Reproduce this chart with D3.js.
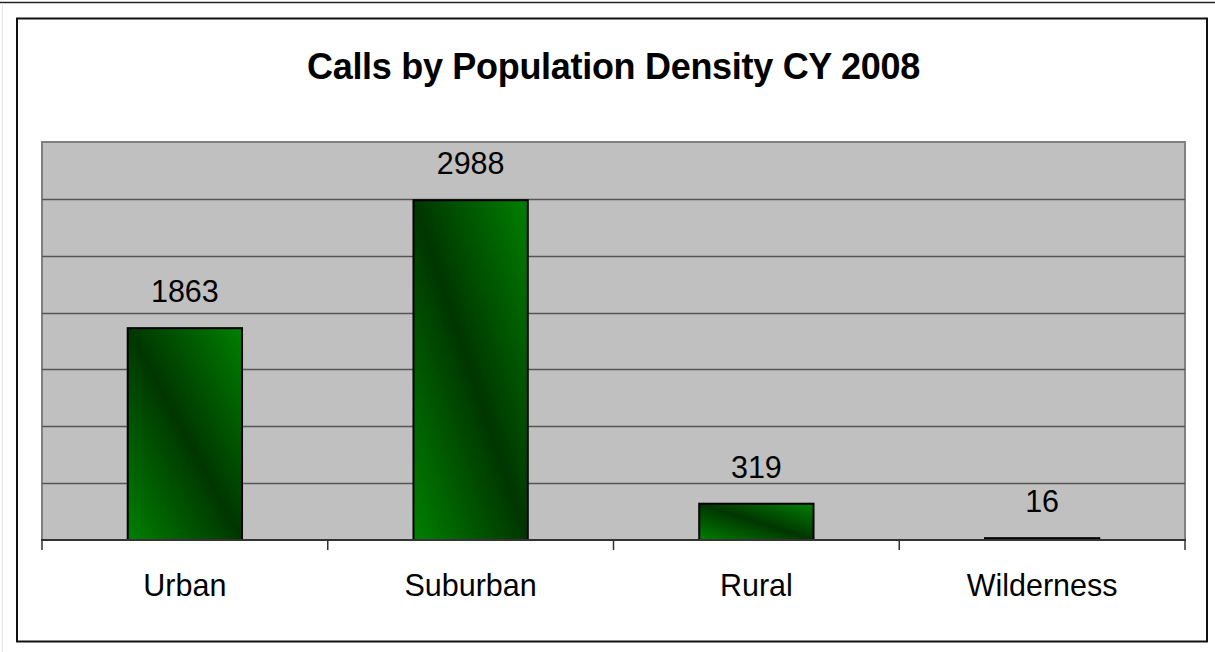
<!DOCTYPE html>
<html>
  <head>
    <script src="https://d3js.org/d3.v7.min.js"></script>
    <style>
body { margin: 0; background: #fff; }
text { font-family: "Liberation Sans", Arial, sans-serif; fill: #000; }
    </style>
  </head>
  <body>
    <script>
var categories = ["Urban", "Suburban", "Rural", "Wilderness"];
var calls = [1863, 2988, 319, 16];
var yTicks = [0, 500, 1000, 1500, 2000, 2500, 3000, 3500];
var title = "Calls by Population Density CY 2008";

var W = 1215, H = 652;
var plot = {left: 42, top: 142, right: 1185, bottom: 540};

var svg = d3.select("body").append("svg").attr("width", W).attr("height", H);

// page edges
svg.append("line").attr("x1", 0).attr("x2", W).attr("y1", 2.5).attr("y2", 2.5)
	.style("stroke", "#222").style("stroke-width", 1.5);
svg.append("line").attr("x1", 2.5).attr("x2", 2.5).attr("y1", 3).attr("y2", H)
	.style("stroke", "#e4e4e4").style("stroke-width", 1);

// chart border
svg.append("rect").attr("x", 17).attr("y", 18.5).attr("width", 1190).attr("height", 623)
	.style("fill", "white").style("stroke", "#111").style("stroke-width", 2);

var defs = svg.append("defs");
var grad = defs.append("linearGradient").attr("id", "barGrad")
	.attr("x1", 0).attr("y1", 1).attr("x2", 1).attr("y2", 0);
grad.append("stop").attr("offset", "0%").attr("stop-color", "#008000");
grad.append("stop").attr("offset", "50%").attr("stop-color", "#003600");
grad.append("stop").attr("offset", "100%").attr("stop-color", "#008000");

var x = d3.scaleBand().domain(categories).range([plot.left, plot.right]).padding(0);
var y = d3.scaleLinear().domain([0, 3500]).range([plot.bottom, plot.top]);

// plot area
svg.append("rect").attr("x", plot.left).attr("y", plot.top)
	.attr("width", plot.right - plot.left).attr("height", plot.bottom - plot.top)
	.style("fill", "#c0c0c0").style("stroke", "#808080").style("stroke-width", 2);

// gridlines
svg.append("g").selectAll("line").data(yTicks.slice(1, -1)).enter().append("line")
	.attr("x1", plot.left).attr("x2", plot.right)
	.attr("y1", function (d) { return Math.round(y(d)) + 0.5; })
	.attr("y2", function (d) { return Math.round(y(d)) + 0.5; })
	.style("stroke", "#555").style("stroke-width", 1.5);

// bars
var barW = x.bandwidth() * 0.4;
svg.append("g").selectAll("rect").data(calls).enter().append("rect")
	.attr("x", function (d, i) { return x(categories[i]) + (x.bandwidth() - barW) / 2; })
	.attr("y", function (d) { return y(d); })
	.attr("width", barW)
	.attr("height", function (d) { return y(0) - y(d); })
	.style("fill", "url(#barGrad)").style("stroke", "#000").style("stroke-width", 2);

// value labels
svg.append("g").selectAll("text").data(calls).enter().append("text")
	.attr("x", function (d, i) { return x(categories[i]) + x.bandwidth() / 2; })
	.attr("y", function (d) { return y(d) - 26; })
	.attr("text-anchor", "middle")
	.style("font-size", "30.5px")
	.text(function (d) { return d; });

// x axis
var xAxis = svg.append("g").attr("transform", "translate(0," + plot.bottom + ")");
xAxis.append("line").attr("x1", plot.left - 1).attr("x2", plot.right + 1)
	.style("stroke", "#333").style("stroke-width", 2);
var bounds = categories.map(function (c) { return x(c); }).concat([plot.right]);
xAxis.selectAll("line.tick").data(bounds).enter().append("line").attr("class", "tick")
	.attr("x1", function (d) { return d; }).attr("x2", function (d) { return d; })
	.attr("y1", 0).attr("y2", 10)
	.style("stroke", "#333").style("stroke-width", 1.5);
xAxis.selectAll("text").data(categories).enter().append("text")
	.attr("x", function (d) { return x(d) + x.bandwidth() / 2; })
	.attr("y", 56)
	.attr("text-anchor", "middle")
	.style("font-size", "30.5px")
	.text(function (d) { return d; });

// title
svg.append("text").attr("x", (plot.left + plot.right) / 2).attr("y", 79)
	.attr("text-anchor", "middle")
	.style("font-size", "36px").style("font-weight", "bold").style("letter-spacing", "-0.3px")
	.text(title);
    </script>
  </body>
</html>
